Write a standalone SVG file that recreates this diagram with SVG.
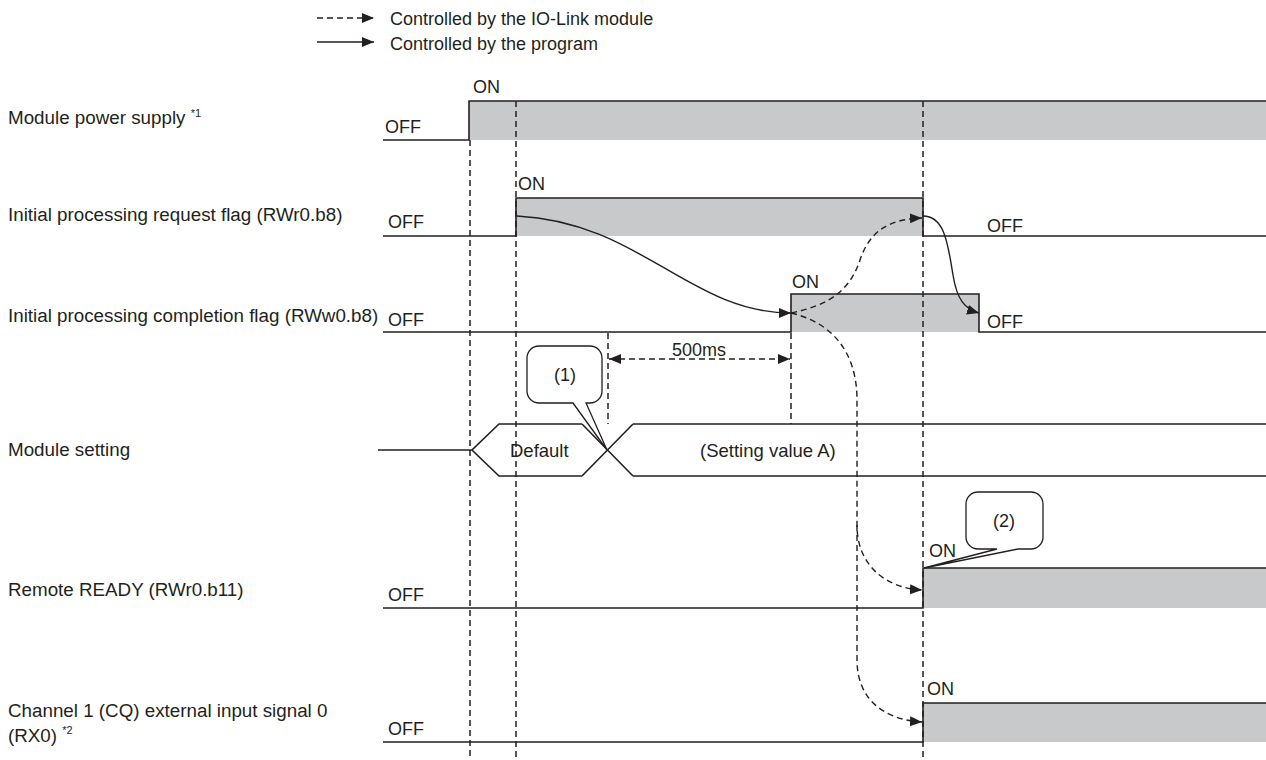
<svg xmlns="http://www.w3.org/2000/svg" width="1266" height="760" viewBox="0 0 1266 760">
<style>
text{font-family:"Liberation Sans",Arial,sans-serif;font-size:18px;fill:#231f20}
.lbl{font-size:18.8px}
.val{font-size:18.5px}
.sup{font-size:11px}
.band{fill:#c8c9ca;stroke:none}
.sig{fill:none;stroke:#231f20;stroke-width:1.6}
.vd{fill:none;stroke:#231f20;stroke-width:1.5;stroke-dasharray:6 4}
.cd{fill:none;stroke:#231f20;stroke-width:1.4;stroke-dasharray:6 4}
.cs{fill:none;stroke:#231f20;stroke-width:1.4}
.call{fill:#fff;stroke:#231f20;stroke-width:1.3}
</style>
<defs>
<marker id="ah" markerUnits="userSpaceOnUse" markerWidth="13" markerHeight="11" refX="12" refY="5" orient="auto-start-reverse" viewBox="0 0 13 11">
<path d="M0,0 L12,5 L0,10 z" fill="#231f20"/>
</marker>
</defs>

<g id="legend">
<line class="cd" x1="317" y1="18" x2="374" y2="18" marker-end="url(#ah)"/>
<text x="390" y="25">Controlled by the IO-Link module</text>
<line class="cs" x1="317" y1="42" x2="374" y2="42" marker-end="url(#ah)"/>
<text x="390" y="50">Controlled by the program</text>
</g>

<g id="labels">
<text class="lbl" x="8" y="124">Module power supply <tspan class="sup" dy="-7">*1</tspan></text>
<text class="lbl" x="8" y="221">Initial processing request flag (RWr0.b8)</text>
<text class="lbl" x="8" y="322">Initial processing completion flag (RWw0.b8)</text>
<text class="lbl" x="8" y="456">Module setting</text>
<text class="lbl" x="8" y="596">Remote READY (RWr0.b11)</text>
<text class="lbl" x="8" y="717">Channel 1 (CQ) external input signal 0</text>
<text class="lbl" x="8" y="742">(RX0) <tspan class="sup" dy="-8">*2</tspan></text>
</g>

<g id="bands">
<rect class="band" x="469" y="101" width="797" height="39"/>
<rect class="band" x="516" y="198" width="407" height="38"/>
<rect class="band" x="791" y="294" width="188" height="38"/>
<rect class="band" x="923" y="568" width="343" height="40"/>
<rect class="band" x="923" y="703" width="343" height="39"/>
</g>

<g id="guides">
<line class="vd" x1="470" y1="140" x2="470" y2="760"/>
<line class="vd" x1="516" y1="101" x2="516" y2="760"/>
<line class="vd" x1="923" y1="101" x2="923" y2="760"/>
<line class="vd" x1="608" y1="333" x2="608" y2="424"/>
<line class="vd" x1="791" y1="333" x2="791" y2="424"/>
</g>

<g id="sig-power">
<polyline class="sig" points="383,140 469,140 469,101 1266,101"/>
<text x="385" y="133">OFF</text>
<text x="473" y="93">ON</text>
</g>
<g id="sig-request">
<polyline class="sig" points="383,236 516,236 516,198 923,198 923,236 1266,236"/>
<text x="388" y="228">OFF</text>
<text x="518" y="190">ON</text>
<text x="987" y="232">OFF</text>
</g>
<g id="sig-completion">
<polyline class="sig" points="383,332 791,332 791,294 979,294 979,332 1266,332"/>
<text x="388" y="326">OFF</text>
<text x="792" y="288">ON</text>
<text x="987" y="328">OFF</text>
</g>
<g id="sig-setting">
<path class="sig" d="M378,450 L472,450 M582,424 L499,424 L472,450 L499,476 L582,476 M582,424 L633,476 M582,476 L633,424 M633,424 L1266,424 M633,476 L1266,476"/>
<text class="val" x="510" y="457">Default</text>
<text class="val" x="700" y="457">(Setting value A)</text>
</g>
<g id="sig-ready">
<polyline class="sig" points="383,608 923,608 923,568 1266,568"/>
<text x="388" y="601">OFF</text>
<text x="929" y="557">ON</text>
</g>
<g id="sig-rx0">
<polyline class="sig" points="383,742 923,742 923,703 1266,703"/>
<text x="388" y="735">OFF</text>
<text x="927" y="695">ON</text>
</g>

<g id="timing-500ms">
<line class="cd" x1="609" y1="359" x2="790" y2="359" marker-start="url(#ah)" marker-end="url(#ah)"/>
<text x="699" y="356" text-anchor="middle">500ms</text>
</g>

<g id="connectors">
<path class="cs" d="M517,216 C640,222 690,313 791,313" marker-end="url(#ah)"/>
<path class="cs" d="M923,216 C945,216 948,245 953,275 C957,300 965,309 979,313" marker-end="url(#ah)"/>
<path class="cd" d="M791,313 C830,305 850,290 860,260 C870,230 890,219 922,218" marker-end="url(#ah)"/>
<path class="cd" d="M791,313 C830,322 857,350 857,400 L857,525 C857,565 885,588 922,590" marker-end="url(#ah)"/>
<path class="cd" d="M857,525 L857,660 C857,700 885,720 922,722" marker-end="url(#ah)"/>
</g>

<g id="callout-1">
<path class="call" d="M573,403 L607,450 L586,403 L590,403 A12,12 0 0 0 602,391 L602,358 A12,12 0 0 0 590,346 L539,346 A12,12 0 0 0 527,358 L527,391 A12,12 0 0 0 539,403 Z"/>
<text x="565" y="381" text-anchor="middle">(1)</text>
</g>
<g id="callout-2">
<path class="call" d="M997,549 L924,568 L1018,549 L1031,549 A12,12 0 0 0 1043,537 L1043,504 A12,12 0 0 0 1031,492 L978,492 A12,12 0 0 0 966,504 L966,537 A12,12 0 0 0 978,549 Z"/>
<text x="1004" y="527" text-anchor="middle">(2)</text>
</g>
</svg>
